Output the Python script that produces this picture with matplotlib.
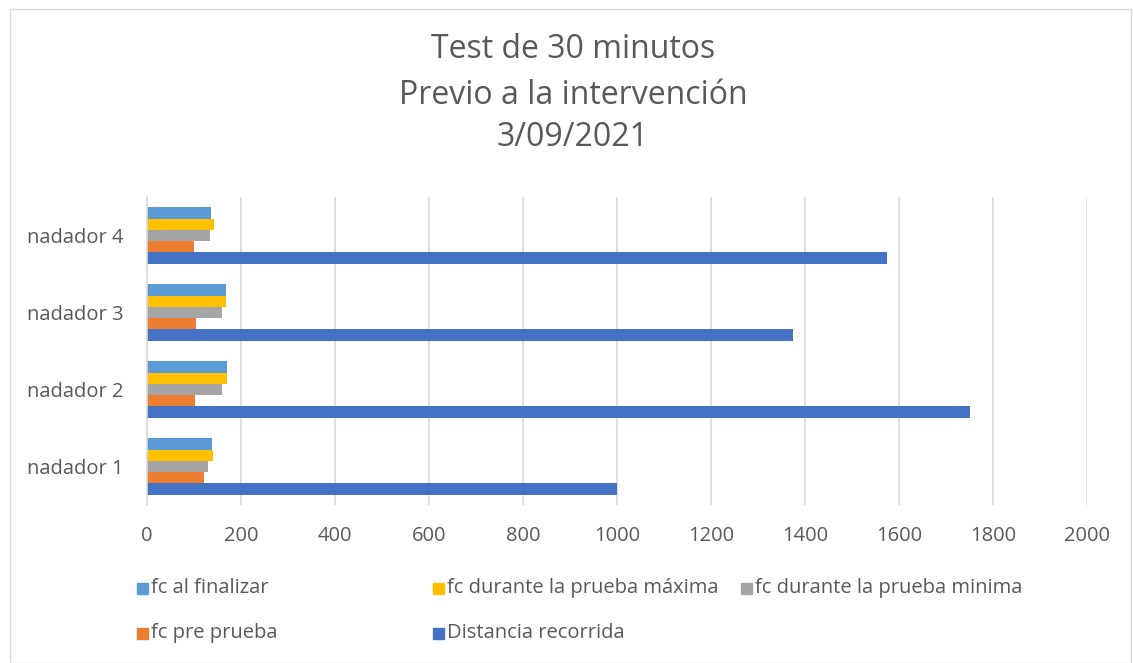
import numpy as np
import matplotlib.pyplot as plt
from matplotlib.patches import Rectangle

nadadores = ["nadador 1", "nadador 2", "nadador 3", "nadador 4"]
distancia = [1000, 1750, 1375, 1575]
fc_pre = [122, 103, 105, 99]
fc_min = [130, 159, 159, 135]
fc_max = [140, 170, 168, 143]
fc_final = [139, 171, 168, 136]

# series from bottom to top inside each group
series = [
    ("Distancia recorrida", distancia, "#4472C4"),
    ("fc pre prueba", fc_pre, "#ED7D31"),
    ("fc durante la prueba minima", fc_min, "#A5A5A5"),
    ("fc durante la prueba máxima", fc_max, "#FFC000"),
    ("fc al finalizar", fc_final, "#5B9BD5"),
]

txt = "#595959"
plt.rcParams['font.family'] = ['Open Sans', 'DejaVu Sans']

fig = plt.figure(figsize=(11.33, 6.63), dpi=100)
ax = fig.add_axes([147/1133, 1-505/663, 940/1133, 308/663])

y = np.arange(len(nadadores))
h = 0.147
for i, (name, vals, col) in enumerate(series):
    ax.barh(y + (i - 2) * h, vals, height=h, color=col, label=name)

ax.set_xlim(0, 2000)
ax.set_ylim(-0.5, 3.5)
ax.set_xticks(range(0, 2001, 200))
ax.set_yticks(y)
ax.set_yticklabels(nadadores)
ax.tick_params(length=0, labelsize=14.5, labelcolor=txt)
ax.tick_params(axis='x', pad=15)
ax.tick_params(axis='y', pad=17)
ax.grid(axis='x', color="#D9D9D9", linewidth=1.2)
ax.set_axisbelow(True)
for s in ["top", "right", "bottom"]:
    ax.spines[s].set_visible(False)
ax.spines["left"].set_color("#D9D9D9")
ax.spines["left"].set_linewidth(1.2)

fig.text(573/1133, 1-50/663, "Test de 30 minutos", ha='center', va='center', fontsize=23, color=txt)
fig.text(573/1133, 1-95/663, "Previo a la intervención", ha='center', va='center', fontsize=23, color=txt)
fig.text(573/1133, 1-137/663, "3/09/2021", ha='center', va='center', fontsize=23, color=txt)

# legend laid out like the original
leg_order = [4, 3, 2, 1, 0]
leg_pos = [(137, 588), (433, 588), (741, 588), (137, 633), (433, 633)]
for k, (px, py) in zip(leg_order, leg_pos):
    name, _, col = series[k]
    fig.add_artist(Rectangle((px/1133, 1-(py+6)/663), 11/1133, 11/663,
                             transform=fig.transFigure, color=col))
    fig.text((px+14)/1133, 1-py/663, name, ha='left', va='center', fontsize=14.5, color=txt)

fig.add_artist(Rectangle((10/1133, 0.5/663), 1121/1133, 654/663, transform=fig.transFigure,
                         fill=False, edgecolor="#D9D9D9", linewidth=1))

fig.savefig("out.png", dpi=100)
